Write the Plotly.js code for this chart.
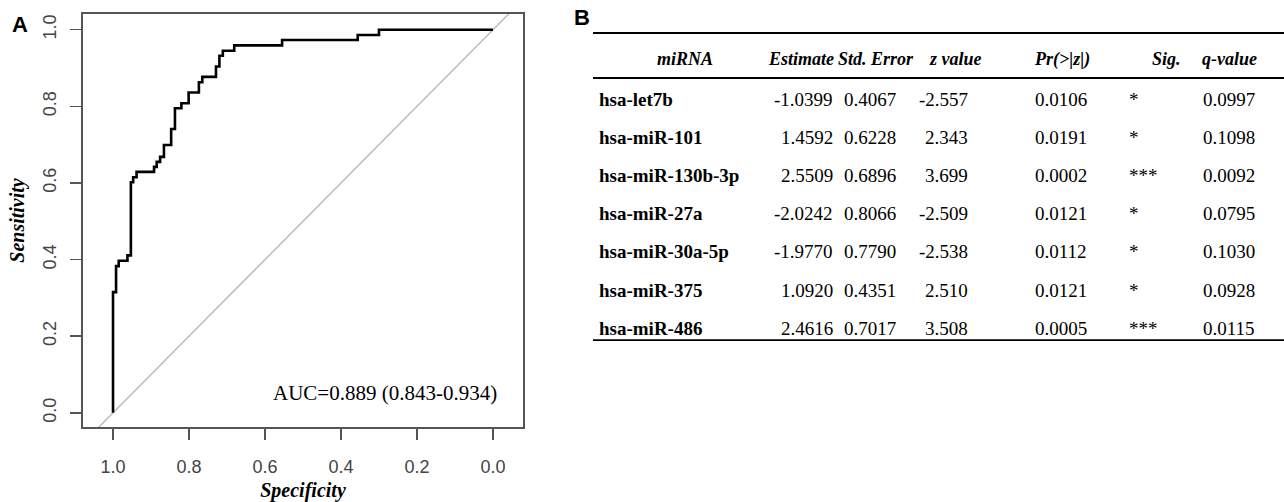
<!DOCTYPE html>
<html><head><meta charset="utf-8">
<script src="https://cdn.plot.ly/plotly-3.0.1.min.js"></script>
<style>html,body{margin:0;padding:0;background:#fff;} #chart{width:1284px;height:502px;}</style>
</head><body><div id="chart"></div>
<script>
// ROC curve (panel A): vertices of the step curve, top of each vertical step
const specificity = [1.0, 1.0, 0.992, 0.985, 0.962, 0.953, 0.947, 0.938, 0.892, 0.885, 0.876, 0.866, 0.847, 0.837, 0.820, 0.801, 0.774, 0.765, 0.729, 0.720, 0.711, 0.681, 0.555, 0.356, 0.300, 0.0];
const sensitivity = [0.0, 0.315, 0.383, 0.397, 0.411, 0.602, 0.615, 0.629, 0.642, 0.655, 0.668, 0.699, 0.741, 0.795, 0.808, 0.836, 0.863, 0.877, 0.904, 0.932, 0.945, 0.959, 0.973, 0.986, 1.0, 1.0];
const chanceSpec = [1.2, -0.2];
const chanceSens = [-0.2, 1.2];
const aucLabel = 'AUC=0.889 (0.843-0.934)';
const xTickVals = [1.0, 0.8, 0.6, 0.4, 0.2, 0.0];
const xTickText = ['1.0', '0.8', '0.6', '0.4', '0.2', '0.0'];
const yTickVals = [0.0, 0.2, 0.4, 0.6, 0.8, 1.0];
const yTickText = ['0.0', '0.2', '0.4', '0.6', '0.8', '1.0'];

// Table (panel B)
const headers = ['miRNA', 'Estimate', 'Std. Error', 'z value', 'Pr(>|z|)', 'Sig.', 'q-value'];
const miRNA = ['hsa-let7b', 'hsa-miR-101', 'hsa-miR-130b-3p', 'hsa-miR-27a', 'hsa-miR-30a-5p', 'hsa-miR-375', 'hsa-miR-486'];
const estimate = ['-1.0399', '1.4592', '2.5509', '-2.0242', '-1.9770', '1.0920', '2.4616'];
const stdError = ['0.4067', '0.6228', '0.6896', '0.8066', '0.7790', '0.4351', '0.7017'];
const zValue = ['-2.557', '2.343', '3.699', '-2.509', '-2.538', '2.510', '3.508'];
const pValue = ['0.0106', '0.0191', '0.0002', '0.0121', '0.0112', '0.0121', '0.0005'];
const sig = ['*', '*', '***', '*', '*', '*', '***'];
const qValue = ['0.0997', '0.1098', '0.0092', '0.0795', '0.1030', '0.0928', '0.0115'];

// ---- layout helpers (pixel -> paper) ----
const W = 1284, H = 502, L = 83, R = 523, T = 14, B = 427;
const px = x => (x - L) / (R - L);
const py = y => (B - y) / (B - T);

const serif = 'Liberation Serif, Times New Roman, serif';
const sans = 'Liberation Sans, Arial, sans-serif';

const traces = [
  {x: chanceSpec, y: chanceSens, mode: 'lines', line: {color: '#bdbdbd', width: 1.5}, hoverinfo: 'skip', showlegend: false},
  {x: specificity, y: sensitivity, mode: 'lines', line: {color: '#000', width: 2.6, shape: 'hv'}, showlegend: false}
];

const annotations = [];
const shapes = [];
// panel letters
annotations.push({xref: 'paper', yref: 'paper', x: px(20), y: py(24), text: '<b>A</b>', showarrow: false, font: {family: sans, size: 22, color: '#000'}, xanchor: 'center', yanchor: 'middle'});
annotations.push({xref: 'paper', yref: 'paper', x: px(582), y: py(18), text: '<b>B</b>', showarrow: false, font: {family: sans, size: 22, color: '#000'}, xanchor: 'center', yanchor: 'middle'});
// AUC text in data coordinates
annotations.push({xref: 'x', yref: 'y', x: 0.285, y: 0.052, text: aucLabel, showarrow: false, font: {family: serif, size: 21, color: '#000'}, xanchor: 'center', yanchor: 'middle'});

// table geometry
const headerY = 59;
const rowY0 = 99, rowStep = 38.2;
const lineX0 = 593, lineX1 = 1284;
const cols = [
  {vals: miRNA, hx: 685, ha: 'center', x: 597, a: 'left', bold: true},
  {vals: estimate, hx: 801, ha: 'center', x: 835, a: 'right'},
  {vals: stdError, hx: 876, ha: 'center', x: 870, a: 'center'},
  {vals: zValue, hx: 955, ha: 'center', x: 970, a: 'right'},
  {vals: pValue, hx: 1062, ha: 'center', x: 1061, a: 'center'},
  {vals: sig, hx: 1166, ha: 'center', x: 1127, a: 'left'},
  {vals: qValue, hx: 1229, ha: 'center', x: 1229, a: 'center'}
];
cols.forEach((c, ci) => {
  annotations.push({xref: 'paper', yref: 'paper', x: px(c.hx), y: py(headerY), text: '<b><i>' + headers[ci] + '</i></b>', showarrow: false,
    font: {family: serif, size: 18, color: '#000'}, xanchor: c.ha, yanchor: 'middle'});
  c.vals.forEach((v, ri) => {
    annotations.push({xref: 'paper', yref: 'paper', x: px(c.x), y: py(rowY0 + ri * rowStep), text: c.bold ? '<b>' + v + '</b>' : v, showarrow: false,
      font: {family: serif, size: 19, color: '#000'}, xanchor: c.a, yanchor: 'middle'});
  });
});
const lastRowY = rowY0 + (miRNA.length - 1) * rowStep;
[[33, 2.2], [78, 1.8], [lastRowY + 12, 1.8]].forEach(([y, w]) => {
  shapes.push({type: 'line', xref: 'paper', yref: 'paper', x0: px(lineX0), x1: px(lineX1), y0: py(y), y1: py(y), line: {color: '#000', width: w}});
});

const layout = {
  width: W, height: H,
  margin: {l: L, r: W - R, t: T, b: H - B, pad: 0},
  paper_bgcolor: '#fff', plot_bgcolor: '#fff',
  showlegend: false,
  xaxis: {
    range: [1.079, -0.079], showgrid: false, zeroline: false,
    showline: true, mirror: true, linecolor: '#555', linewidth: 1.6,
    ticks: 'outside', ticklen: 11, tickwidth: 1.5, tickcolor: '#555',
    tickvals: xTickVals, ticktext: xTickText, ticklabelstandoff: 12,
    tickfont: {family: sans, size: 18, color: '#444'},
    title: {text: '<b><i>Specificity</i></b>', font: {family: serif, size: 20, color: '#000'}, standoff: 10}
  },
  yaxis: {
    range: [-0.037, 1.041], showgrid: false, zeroline: false,
    showline: true, mirror: true, linecolor: '#555', linewidth: 1.6,
    ticks: 'outside', ticklen: 11, tickwidth: 1.5, tickcolor: '#555',
    tickvals: yTickVals, ticktext: yTickText, tickangle: -90, ticklabelstandoff: 7,
    tickfont: {family: sans, size: 18, color: '#444'},
    title: {text: '<b><i>Sensitivity</i></b>', font: {family: serif, size: 20, color: '#000'}, standoff: 10}
  },
  annotations: annotations,
  shapes: shapes
};

Plotly.newPlot('chart', traces, layout, {displayModeBar: false, staticPlot: true});
</script>
</body></html>
